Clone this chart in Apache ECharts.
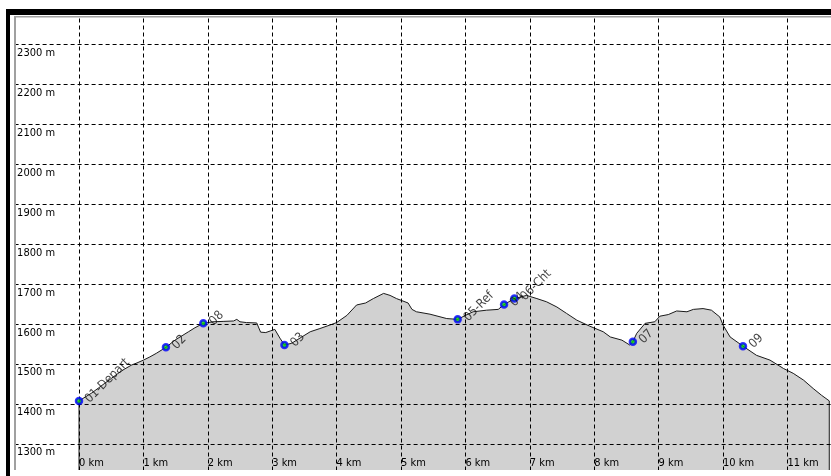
<!DOCTYPE html>
<html>
<head>
<meta charset="utf-8">
<script src="https://cdn.jsdelivr.net/npm/echarts@6/dist/echarts.min.js"></script>
<style>
html, body { margin: 0; padding: 0; background: #fff; overflow: hidden; }
#main { width: 840px; height: 490px; }
</style>
</head>
<body>
<div id="main"></div>
<script>
// profile: distance (km) / elevation (m)
var profDist = [0, 0.1, 0.2, 0.3, 0.4, 0.5, 0.6, 0.7, 0.82, 0.9, 1.0, 1.1, 1.2, 1.3, 1.35, 1.49, 1.6, 1.7, 1.8, 1.93,
    2.08, 2.25, 2.4, 2.45, 2.5, 2.6, 2.76, 2.82, 2.9, 2.97, 3.04, 3.12, 3.19, 3.3, 3.46, 3.59, 3.74, 3.9,
    4.0, 4.16, 4.31, 4.45, 4.57, 4.73, 4.83, 4.93, 5.11, 5.17, 5.24, 5.45, 5.71, 5.88, 6.0, 6.12, 6.33, 6.51,
    6.6, 6.76, 6.95, 7.11, 7.26, 7.42, 7.57, 7.73, 7.93, 8.14, 8.25, 8.43, 8.55, 8.6, 8.66, 8.79, 8.94,
    9.02, 9.15, 9.28, 9.44, 9.54, 9.69, 9.82, 9.95, 10.0, 10.11, 10.31, 10.52, 10.73, 10.94, 11.09, 11.25,
    11.4, 11.53, 11.65];
var profElev = [1408, 1418, 1428, 1440, 1452, 1464, 1476, 1487, 1498, 1503, 1510, 1518, 1527, 1537, 1542, 1560, 1571, 1581, 1591, 1602,
    1606, 1607, 1608, 1612, 1606, 1604, 1603, 1580, 1579, 1583, 1587, 1565, 1548, 1552, 1568, 1581, 1589, 1598,
    1604, 1622, 1648, 1653, 1664, 1677, 1672, 1664, 1653, 1637, 1631, 1625, 1614, 1612, 1622, 1631, 1635, 1637,
    1649, 1664, 1672, 1664, 1656, 1643, 1627, 1610, 1595, 1581, 1568, 1560, 1548, 1556, 1577, 1602, 1606,
    1620, 1624, 1633, 1631, 1637, 1639, 1635, 1618, 1598, 1568, 1545, 1522, 1510, 1489, 1477, 1460,
    1439, 1422, 1408];

// waypoints
var wpNames = ['01-Depart', '02', '08', '03', '05-Ref', '04', '06-Cht', '07', '09'];
var wpDist = [0, 1.35, 1.93, 3.19, 5.88, 6.60, 6.76, 8.60, 10.31];
var wpElev = [1408, 1542, 1602, 1548, 1612, 1649, 1664, 1556, 1545];

var yMin = 1200, yMax = 2400;

var font = '"DejaVu Sans Condensed", "Liberation Sans", Arial, sans-serif';
// the canvas is a bit larger than the window so the 1200 m / 11.7 km edges fall outside it
var myChart = echarts.init(document.getElementById('main'));

var lineData = [[profDist[0], yMin]];
for (var i = 0; i < profDist.length; i++) lineData.push([profDist[i], profElev[i]]);
lineData.push([profDist[profDist.length - 1], yMin]);

var wpData = wpDist.map(function (d, i) { return { value: [d, wpElev[i]], name: wpNames[i] }; });

var dashed = { show: true, lineStyle: { color: '#000', width: 1, type: [4, 3] } };

option = {
    animation: false,
    backgroundColor: '#fff',
    grid: { left: 14.6, right: 7.5, top: 4.5, bottom: 6, containLabel: false },
    xAxis: {
        type: 'value', min: -1, max: 11.7, interval: 1, z: 3,
        axisLine: { show: false }, axisTick: { show: false },
        splitLine: dashed,
        axisLabel: {
            inside: true, margin: 15, align: 'left', verticalAlign: 'bottom',
            fontFamily: font, fontSize: 11, color: '#000',
            formatter: function (v) { return (v >= 0 && v === Math.round(v)) ? v + ' km' : ''; }
        }
    },
    yAxis: {
        type: 'value', min: yMin, max: yMax, interval: 100, z: 3,
        axisLine: { show: false }, axisTick: { show: false },
        splitLine: dashed,
        axisLabel: {
            inside: true, margin: 2.5, align: 'left', verticalAlign: 'top', padding: [3, 0, 0, 0],
            fontFamily: font, fontSize: 11, color: '#000',
            formatter: function (v) { return (v === yMin || v === yMax) ? '' : v + ' m'; }
        }
    },
    series: [
        {
            type: 'line', data: lineData, z: 2, showSymbol: false, silent: true,
            lineStyle: { color: '#1a1a1a', width: 1 },
            areaStyle: { color: '#d1d1d1', opacity: 1, origin: 'start' }
        },
        {
            type: 'scatter', data: wpData, z: 5, symbol: 'circle', symbolSize: 6,
            itemStyle: { color: '#00d000', borderColor: '#0000ff', borderWidth: 2.5 },
            label: {
                show: true, position: 'right', distance: 4, rotate: 45,
                fontFamily: font, fontSize: 12.5, color: '#111',
                formatter: function (p) { return p.name; }
            }
        }
    ],
    graphic: [
        { type: 'rect', z: 100, shape: { x: 0, y: 0, width: 840, height: 9 }, style: { fill: '#fff' } },
        { type: 'rect', z: 100, shape: { x: 0, y: 0, width: 6, height: 490 }, style: { fill: '#fff' } },
        { type: 'rect', z: 100, shape: { x: 6, y: 9, width: 834, height: 6 }, style: { fill: '#000' } },
        { type: 'rect', z: 100, shape: { x: 6, y: 9, width: 4, height: 481 }, style: { fill: '#000' } },
        { type: 'rect', z: 100, shape: { x: 10, y: 15, width: 830, height: 1.5 }, style: { fill: '#fff' } },
        { type: 'rect', z: 100, shape: { x: 10, y: 15, width: 4, height: 475 }, style: { fill: '#fff' } },
        { type: 'rect', z: 100, shape: { x: 14, y: 16, width: 826, height: 1.5 }, style: { fill: '#a0a0a0' } },
        { type: 'rect', z: 100, shape: { x: 14, y: 16, width: 2, height: 454 }, style: { fill: '#a0a0a0' } },
        { type: 'rect', z: 100, shape: { x: 14, y: 470, width: 826, height: 20 }, style: { fill: '#fff' } }
    ]
};

myChart.setOption(option);

window.addEventListener('resize', function () {
    myChart.resize();
});
</script>
</body>
</html>
